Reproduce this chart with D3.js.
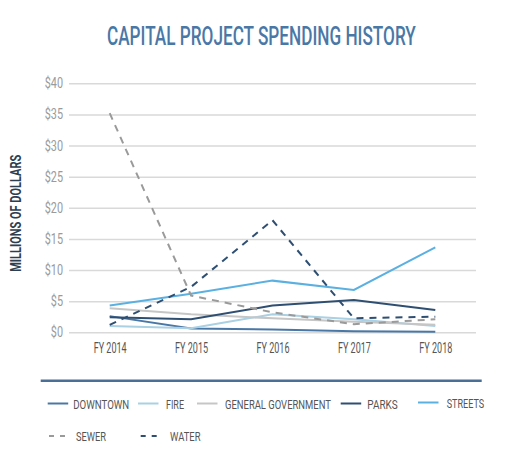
<!DOCTYPE html>
<html>
<head>
<meta charset="utf-8">
<script src="https://cdn.jsdelivr.net/npm/d3@7"></script>
<style>
  html, body { margin: 0; padding: 0; background: #fff; }
  svg { display: block; }
  text { font-family: "Roboto", "Liberation Sans", sans-serif; }
</style>
</head>
<body>
<svg id="chart" width="526" height="474"></svg>
<script>
const years = ["FY 2014", "FY 2015", "FY 2016", "FY 2017", "FY 2018"];
const yTicks = [0, 5, 10, 15, 20, 25, 30, 35, 40];
const seriesNames = ["DOWNTOWN", "FIRE", "GENERAL GOVERNMENT", "PARKS", "STREETS", "SEWER", "WATER"];
const downtown = [2.6, 0.6, 0.45, 0.15, 0.1];
const fire = [1.0, 0.65, 2.9, 2.1, 1.0];
const generalGovernment = [3.85, 2.9, 2.25, 1.7, 1.2];
const parks = [2.4, 2.1, 4.3, 5.2, 3.6];
const streets = [4.3, 6.2, 8.3, 6.8, 13.65];
const sewer = [35.2, 5.9, 3.2, 1.3, 2.1];
const water = [1.2, 7.3, 18.0, 2.25, 2.5];

const seriesValues = [downtown, fire, generalGovernment, parks, streets, sewer, water];
const colors = ["#4a78a6", "#a9d0e3", "#c6c6c6", "#2f4f72", "#5bb0e2", "#9a9a9a", "#2f4f72"];
const dashes = [null, null, null, null, null, "7,6", "7,6"];

const svg = d3.select("#chart");
const mLeft = 69, mRight = 476, mTop = 83.3, mBottom = 332.3;

const x = d3.scalePoint().domain(years).range([mLeft, mRight]).padding(0.5);
const y = d3.scaleLinear().domain([0, 40]).range([mBottom, mTop]);

// helper: place text at (px,py) horizontally condensed to target width
function fitText(parent, str, px, py, w, attrs, rotate) {
  const t = parent.append("text").text(str);
  Object.entries(attrs).forEach(([k, v]) => t.attr(k, v));
  const nat = t.node().getComputedTextLength();
  const sx = w / nat;
  t.attr("transform", `translate(${px},${py})${rotate ? " rotate(" + rotate + ")" : ""} scale(${sx},1)`);
  return t;
}

// Title
fitText(svg, "CAPITAL PROJECT SPENDING HISTORY", 107, 45, 309,
  {"font-size": 25, "font-weight": 500, "fill": "#4a78a6"});

// Gridlines
const yAxis = d3.axisLeft(y).tickValues(yTicks).tickSize(-(mRight - mLeft)).tickFormat(d => "$" + d).tickPadding(6);
const gy = svg.append("g").attr("transform", `translate(${mLeft},0)`).call(yAxis);
gy.select(".domain").remove();
gy.selectAll(".tick line").attr("stroke", "#d9d9d9").attr("stroke-width", 1.5);
gy.selectAll(".tick text")
  .attr("font-size", 14).attr("fill", "#9a9a9a")
  .attr("x", -6)
  .attr("textLength", d => String(d).length * 6.1 + 6.1)
  .attr("lengthAdjust", "spacingAndGlyphs")
  .style("font-family", '"Roboto", sans-serif');

// X axis labels
const xAxis = d3.axisBottom(x).tickSize(0).tickPadding(11);
const gx = svg.append("g").attr("transform", `translate(0,${mBottom})`).call(xAxis);
gx.select(".domain").remove();
gx.selectAll(".tick text").attr("font-size", 14).attr("fill", "#555")
  .attr("textLength", 33).attr("lengthAdjust", "spacingAndGlyphs")
  .style("font-family", '"Roboto", sans-serif');

// Y axis title
svg.append("text")
  .attr("transform", "translate(20.7,213.3) rotate(-90)")
  .attr("text-anchor", "middle")
  .attr("textLength", 117).attr("lengthAdjust", "spacingAndGlyphs")
  .attr("font-size", 14).attr("font-weight", "bold").attr("fill", "#2d3e50")
  .text("MILLIONS OF DOLLARS");

// Lines
const line = d3.line().x((d, i) => x(years[i])).y(d => y(d));
seriesValues.forEach((vals, i) => {
  svg.append("path")
    .datum(vals)
    .attr("d", line)
    .attr("fill", "none")
    .attr("stroke", colors[i])
    .attr("stroke-width", 2)
    .attr("stroke-dasharray", dashes[i]);
});

// Legend separator
svg.append("line").attr("x1", 40.7).attr("x2", 481.7).attr("y1", 380.7).attr("y2", 380.7)
  .attr("stroke", "#4a6f96").attr("stroke-width", 2.5);

// Legend
const legendPos = [
  {sx: 47.7, tx: 73.3, y: 403.5, tw: 56},
  {sx: 138, tx: 166, y: 403.5, tw: 18},
  {sx: 197, tx: 225, y: 403.5, tw: 106},
  {sx: 340.7, tx: 367.3, y: 403.5, tw: 30.5},
  {sx: 418, tx: 446.7, y: 402.5, tw: 37.5},
  {sx: 49, tx: 76, y: 436, tw: 30},
  {sx: 140.7, tx: 170, y: 436, tw: 30.5}
];
const lg = svg.append("g");
seriesNames.forEach((name, i) => {
  const p = legendPos[i];
  lg.append("line").attr("x1", p.sx).attr("x2", p.sx + 20.5).attr("y1", p.y).attr("y2", p.y)
    .attr("stroke", colors[i]).attr("stroke-width", 2)
    .attr("stroke-dasharray", dashes[i] ? "5,6" : null);
  fitText(lg, name, p.tx, p.y + 5, p.tw, {"font-size": 13.5, "fill": "#555"});
});
</script>
</body>
</html>
